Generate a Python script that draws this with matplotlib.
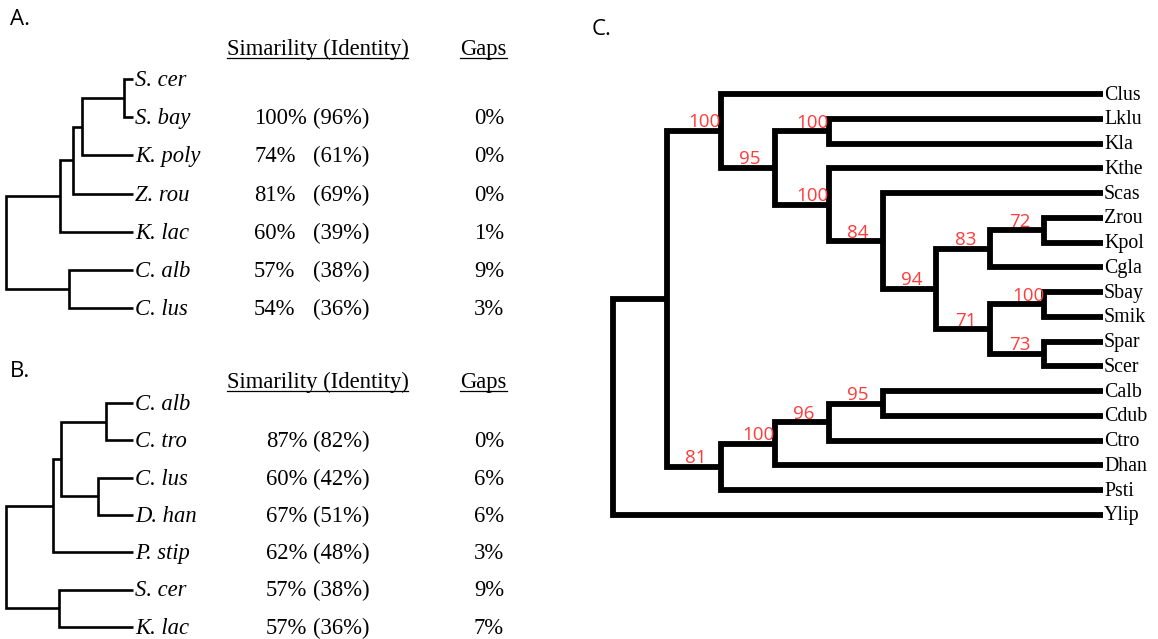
import matplotlib.pyplot as plt

# ---------------- data ----------------
# panels A and B: trees with node depth as a fraction of root-to-tip distance
tree_a = (0.0, [
    (0.425, [
        (0.528, [
            (0.598, [
                (0.929, ["S. cer", "S. bay"]),
                "K. poly"]),
            "Z. rou"]),
        "K. lac"]),
    (0.496, ["C. alb", "C. lus"]),
])
sim_a = ["", "100%", "74%", "81%", "60%", "57%", "54%"]
ident_a = ["", "(96%)", "(61%)", "(69%)", "(39%)", "(38%)", "(36%)"]
gaps_a = ["", "0%", "0%", "0%", "1%", "9%", "3%"]

tree_b = (0.0, [
    (0.370, [
        (0.433, [
            (0.787, ["C. alb", "C. tro"]),
            (0.724, ["C. lus", "D. han"])]),
        "P. stip"]),
    (0.417, ["S. cer", "K. lac"]),
])
sim_b = ["", "87%", "60%", "67%", "62%", "57%", "57%"]
ident_b = ["", "(82%)", "(42%)", "(51%)", "(48%)", "(38%)", "(36%)"]
gaps_b = ["", "0%", "6%", "6%", "3%", "9%", "7%"]

# panel C: cladogram, nodes carry bootstrap support
tree_c = ("", [
    ("", [
        ("100", ["Clus",
            ("95", [
                ("100", ["Lklu", "Kla"]),
                ("100", ["Kthe",
                    ("84", ["Scas",
                        ("94", [
                            ("83", [("72", ["Zrou", "Kpol"]), "Cgla"]),
                            ("71", [("100", ["Sbay", "Smik"]),
                                    ("73", ["Spar", "Scer"])]),
                        ]),
                    ]),
                ]),
            ]),
        ]),
        ("81", [
            ("100", [
                ("96", [("95", ["Calb", "Cdub"]), "Ctro"]),
                "Dhan"]),
            "Psti"]),
    ]),
    "Ylip",
])

SERIF = "Liberation Serif"
SANS = "Open Sans"
RED = "#ff3b3b"


def leaves_of(clade):
    if isinstance(clade, str):
        return [clade]
    out = []
    for c in clade[1]:
        out += leaves_of(c)
    return out


def draw_clade(ax, clade, level, node_x, tip_x, rows, lw, support=False):
    """Draw a clade with square elbows and return the (x, y) of its node."""
    if isinstance(clade, str):
        return tip_x, rows[clade]
    key, children = clade
    x = node_x(key, level)
    pts = [draw_clade(ax, c, level + 1, node_x, tip_x, rows, lw, support)
           for c in children]
    (x1, y1), (x2, y2) = pts[0], pts[-1]
    ax.plot([x1, x, x, x2], [y1, y1, y2, y2], color="black", lw=lw,
            solid_joinstyle="miter", solid_capstyle="butt")
    for cx, cy in pts[1:-1]:
        ax.plot([x, cx], [cy, cy], color="black", lw=lw)
    y = (y1 + y2) / 2
    if support and key:
        pad = 0 if len(key) > 2 else 14
        ax.text(x - pad, y - 3.5, key, color=RED, family=SANS, fontsize=13.5,
                ha="right", va="baseline")
    return x, y


def underline(ax, txt, y, renderer):
    bb = txt.get_window_extent(renderer=renderer)
    inv = ax.transData.inverted()
    xa, _ = inv.transform((bb.x0, bb.y0))
    xb, _ = inv.transform((bb.x1, bb.y0))
    ax.plot([xa, xb], [y, y], color="black", lw=0.9)


def small_panel(ax, tree, sim, ident, gaps, top, row0, step, sim_x, renderer):
    names = leaves_of(tree)
    rows = {n: row0 + i * step for i, n in enumerate(names)}
    x0, x1 = 6, 133
    draw_clade(ax, tree, 0, lambda d, lvl: x0 + d * (x1 - x0), x1, rows, 1.9)
    for n in names:
        ax.text(x1 + 2, rows[n] + 7, n, family=SERIF, style="italic",
                fontsize=16.3, va="baseline")

    h1 = ax.text(317.5, top, "Simarility (Identity)", family=SERIF,
                 fontsize=16.3, ha="center", va="baseline")
    h2 = ax.text(483.5, top, "Gaps", family=SERIF, fontsize=16.3,
                 ha="center", va="baseline")
    underline(ax, h1, top + 2.5, renderer)
    underline(ax, h2, top + 2.5, renderer)

    for n, s, i, g in zip(names, sim, ident, gaps):
        y = rows[n] + 7
        ax.text(sim_x, y, s, family=SERIF, fontsize=16.3, va="baseline")
        ax.text(313, y, i, family=SERIF, fontsize=16.3, va="baseline")
        ax.text(504, y, g, family=SERIF, fontsize=16.3, ha="right",
                va="baseline")


fig = plt.figure(figsize=(11.58, 6.39), dpi=100)
ax = fig.add_axes([0, 0, 1, 1])
ax.set_xlim(0, 1158)
ax.set_ylim(639, 0)
ax.axis("off")
renderer = fig.canvas.get_renderer()

# panel letters
ax.text(10, 25, "A.", family=SANS, fontsize=16, va="baseline")
ax.text(10, 377, "B.", family=SANS, fontsize=16, va="baseline")
ax.text(592, 35, "C.", family=SANS, fontsize=16, va="baseline")

small_panel(ax, tree_a, sim_a, ident_a, gaps_a, 55, 79, 38.2, 254, renderer)
small_panel(ax, tree_b, sim_b, ident_b, gaps_b, 388, 403, 37.3, 266, renderer)

# panel C
names_c = leaves_of(tree_c)
rows_c = {n: 94 + i * 24.76 for i, n in enumerate(names_c)}
tip_c = 1103
draw_clade(ax, tree_c, 0, lambda key, lvl: 613 + lvl * 53.9, tip_c, rows_c,
           4.2, support=True)
for n in names_c:
    ax.text(tip_c + 1, rows_c[n] + 5.5, n, family=SERIF, fontsize=14.3,
            va="baseline")

fig.savefig("out.png", dpi=100)
